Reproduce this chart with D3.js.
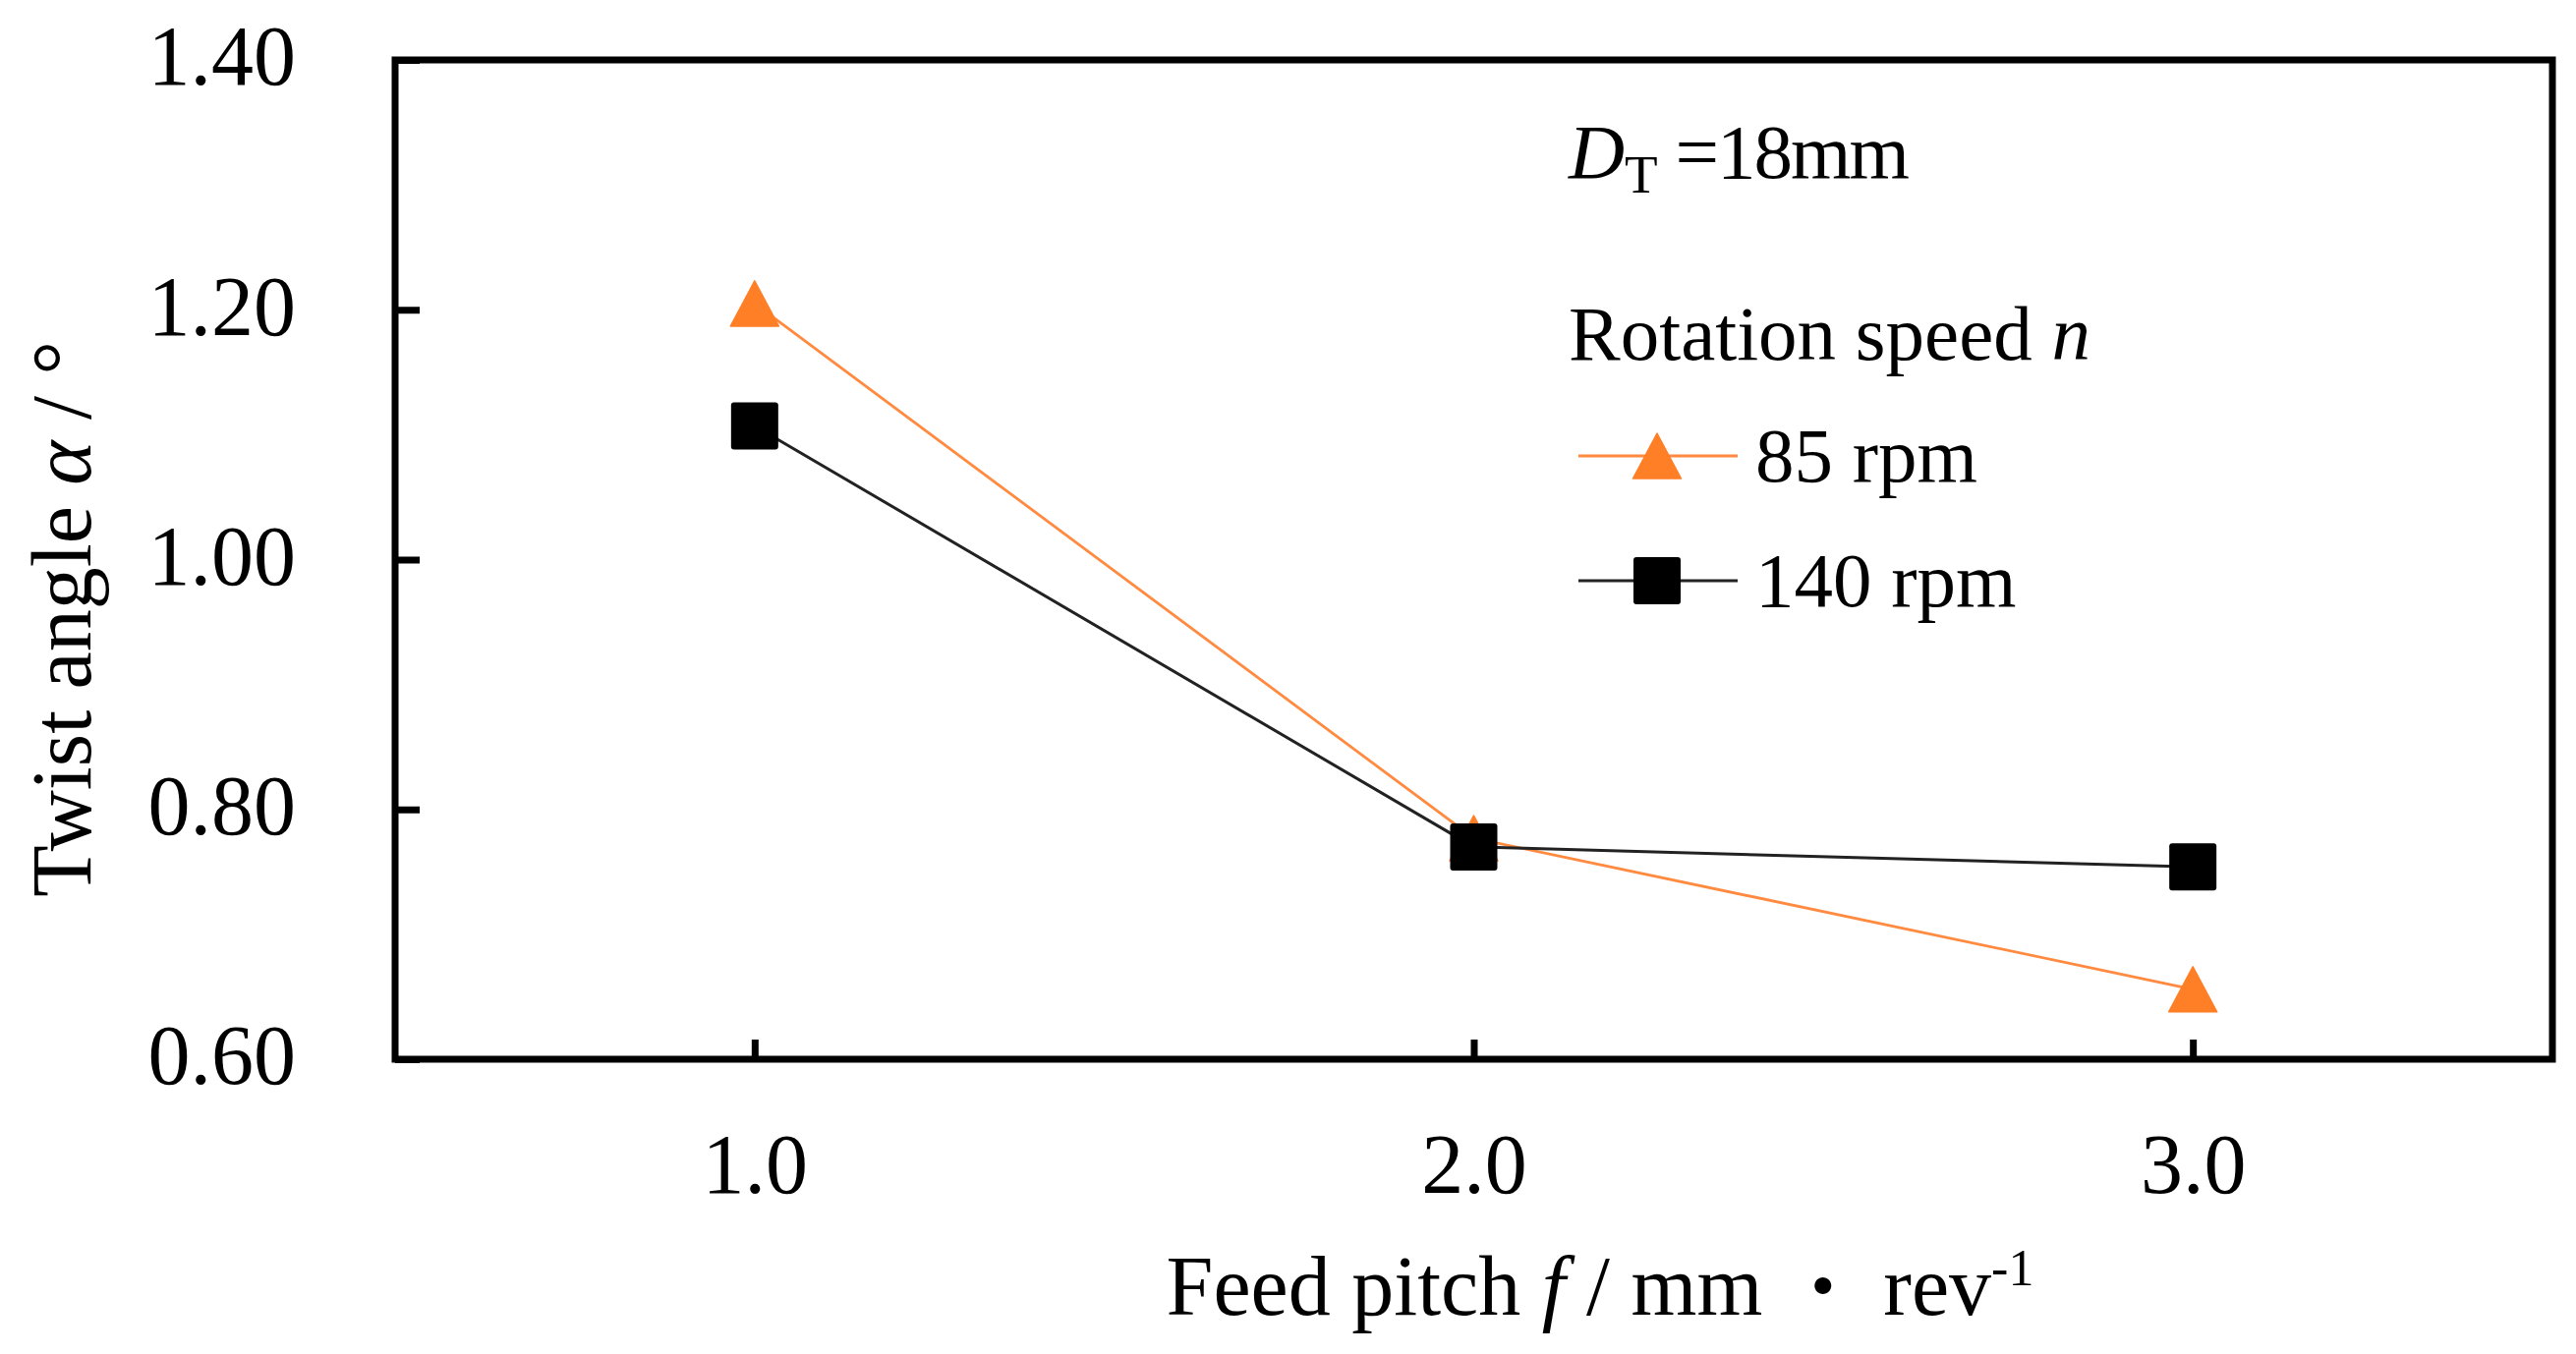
<!DOCTYPE html>
<html>
<head>
<meta charset="utf-8">
<script src="https://cdn.jsdelivr.net/npm/d3@7/dist/d3.min.js"></script>
<style>
  html, body { margin: 0; padding: 0; background: #fff; }
  text { font-family: "Liberation Serif", "Times New Roman", serif; fill: #000; }
</style>
</head>
<body>
<svg id="chart" width="2621" height="1378"></svg>
<script>
// 横轴：进给螺距
const feedPitch = [1.0, 2.0, 3.0];
// 85 rpm 扭转角
const twist85 = [1.205, 0.777, 0.656];
// 140 rpm 扭转角
const twist140 = [1.107, 0.770, 0.754];
// 刻度
const xTicks = [1.0, 2.0, 3.0];
const yTicks = [0.60, 0.80, 1.00, 1.20, 1.40];
// 图例名称
const seriesNames = ['85 rpm', '140 rpm'];

// 画布
const svg = d3.select('#chart');
// 绘图区边界
const plot = { left: 402, right: 2597, top: 61, bottom: 1078 };
const orange = '#FF7F27';

// 比例尺
const x = d3.scaleLinear().domain([0.5, 3.5]).range([plot.left, plot.right]);
const y = d3.scaleLinear().domain([0.6, 1.4]).range([plot.bottom, plot.top]);

// 纵轴（刻度朝内）
const yAxis = svg.append('g')
    .attr('transform', `translate(${plot.left},0)`)
    .call(d3.axisLeft(y).tickValues(yTicks).tickFormat(d3.format('.2f'))
        .tickSizeInner(-25).tickSizeOuter(0).tickPadding(101));
// 横轴（刻度朝内）
const xAxis = svg.append('g')
    .attr('transform', `translate(0,${plot.bottom})`)
    .call(d3.axisBottom(x).tickValues(xTicks).tickFormat(d3.format('.1f'))
        .tickSizeInner(-20).tickSizeOuter(0).tickPadding(75));

// 统一坐标轴样式
[xAxis, yAxis].forEach(ax => {
    ax.select('.domain').remove();
    ax.selectAll('.tick line').attr('stroke', '#000').attr('stroke-width', 7);
    ax.selectAll('.tick text')
        .style('font-family', '"Liberation Serif", serif')
        .attr('font-size', 86).attr('fill', '#000');
});
yAxis.selectAll('.tick text').attr('dy', '0.29em');

// 边框
svg.append('rect')
    .attr('x', plot.left).attr('y', plot.top)
    .attr('width', plot.right - plot.left).attr('height', plot.bottom - plot.top)
    .attr('fill', 'none').attr('stroke', '#000').attr('stroke-width', 7);

// 三角形标记（以外接框中心为数据点）
const triPath = (w, h) => `M0,${-h / 2}L${w / 2},${h / 2}L${-w / 2},${h / 2}Z`;

// 折线生成器
const line = d3.line().x(d => x(d[0])).y(d => y(d[1]));

// 系列定义
const series = [
    { name: seriesNames[0], values: twist85, stroke: '#FF8A40', width: 2.8, shape: 'tri' },
    { name: seriesNames[1], values: twist140, stroke: '#222', width: 3, shape: 'sq' }
];

// 绘制标记
function drawMarker(g, s, cx, cy) {
    if (s.shape === 'tri') {
        g.append('path').attr('d', triPath(49, 46))
            .attr('transform', `translate(${cx},${cy})`)
            .attr('fill', orange).attr('stroke', orange).attr('stroke-width', 1.5)
            .attr('stroke-linejoin', 'round');
    } else {
        g.append('rect').attr('x', cx - 24).attr('y', cy - 24)
            .attr('width', 48).attr('height', 48).attr('rx', 3)
            .attr('fill', '#000');
    }
}

// 绘制各系列
series.forEach(s => {
    let pts = feedPitch.map((f, i) => [f, s.values[i]]);
    let g = svg.append('g');
    g.append('path').attr('d', line(pts))
        .attr('fill', 'none').attr('stroke', s.stroke).attr('stroke-width', s.width);
    pts.forEach(p => drawMarker(g, s, x(p[0]), y(p[1])));
});

// 纵轴标题
const yTitle = svg.append('text')
    .attr('transform', 'translate(92,630) rotate(-90)')
    .attr('text-anchor', 'middle').attr('font-size', 86);
yTitle.append('tspan').text('Twist angle ');
yTitle.append('tspan').attr('font-style', 'italic').text('α');
yTitle.append('tspan').text(' / °');

// 横轴标题
const xTitle = svg.append('text')
    .attr('x', 1628).attr('y', 1338)
    .attr('text-anchor', 'middle').attr('font-size', 86);
xTitle.append('tspan').text('Feed pitch ');
xTitle.append('tspan').attr('font-style', 'italic').text('f');
xTitle.append('tspan').text(' / mm ');
xTitle.append('tspan').style('font-family', '"Noto Sans CJK JP"').attr('font-size', 80).text('・');
xTitle.append('tspan').text(' rev');
xTitle.append('tspan').attr('font-size', 52).attr('dy', -30).text('-1');

// 条件标注 D_T
const dt = svg.append('text').attr('x', 1596).attr('y', 181).attr('font-size', 79);
dt.append('tspan').attr('font-style', 'italic').text('D');
dt.append('tspan').attr('font-size', 55).attr('dy', 15).text('T');
dt.append('tspan').attr('dy', -15).attr('letter-spacing', -2).text(' =18mm');

// 图例标题
const lt = svg.append('text').attr('x', 1596).attr('y', 366).attr('font-size', 79);
lt.append('tspan').text('Rotation speed ');
lt.append('tspan').attr('font-style', 'italic').text('n');

// 图例条目
const legendY = [464, 591];
series.forEach((s, i) => {
    let g = svg.append('g');
    g.append('line').attr('x1', 1606).attr('x2', 1768)
        .attr('y1', legendY[i]).attr('y2', legendY[i])
        .attr('stroke', s.stroke).attr('stroke-width', s.width);
    drawMarker(g, s, 1686, legendY[i]);
    g.append('text').attr('x', 1786).attr('y', legendY[i] + 26)
        .attr('font-size', 79).text(s.name);
});
</script>
</body>
</html>
